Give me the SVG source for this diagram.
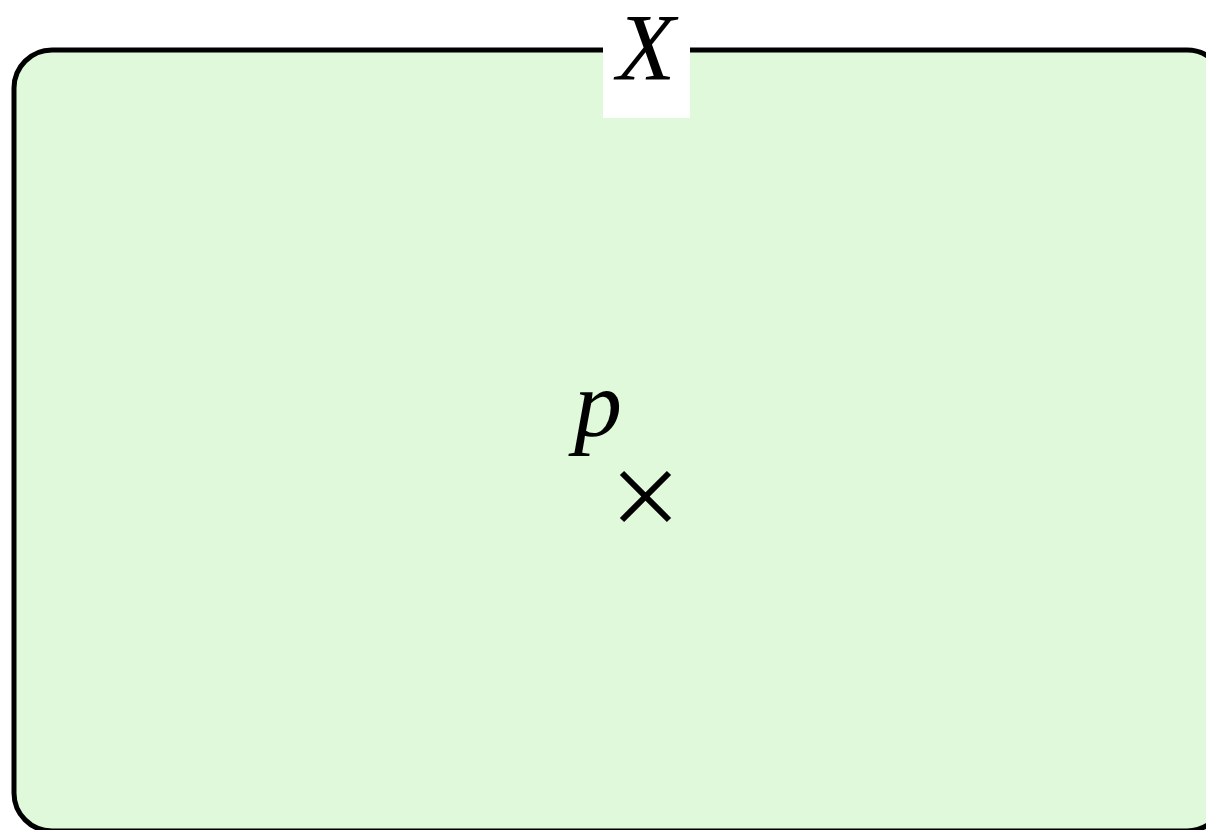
<svg xmlns="http://www.w3.org/2000/svg" width="1206" height="830" viewBox="0 0 1206 830">
<style>
.math{font-family:"Liberation Serif","Times New Roman",Times,serif;font-style:italic;fill:#000}
</style>
<rect width="1206" height="830" fill="#fff"/>
<g id="space-X">
<rect x="14" y="50" width="1211" height="781" rx="38" ry="38" fill="#dff9da" stroke="#000" stroke-width="5"/>
<rect x="603" y="0" width="87" height="118" fill="#fff"/>
<text class="math" x="646" y="80" font-size="96" text-anchor="middle">X</text>
</g>
<g id="point-p">
<text class="math" x="598" y="436" font-size="96" text-anchor="middle">p</text>
<path d="M622,473 L669,520 M669,473 L622,520" stroke="#000" stroke-width="6" fill="none"/>
</g>
</svg>
